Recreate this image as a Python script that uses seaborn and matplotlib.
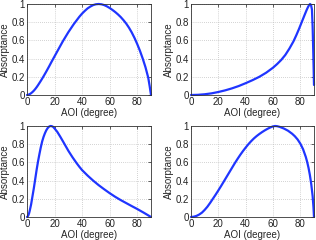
import matplotlib
matplotlib.use("Agg")
import matplotlib.pyplot as plt
import seaborn as sns
import pandas as pd

# Panel 1 (top-left)
aoi_1 = [0, 1, 2, 3, 4, 5, 6, 7, 8, 10, 12, 14, 16, 18, 20, 22, 24, 26, 28, 30, 32, 34, 36, 38, 40, 42, 44, 46, 48, 50, 52, 54, 56, 58,
         60, 62, 64, 66, 68, 70, 72, 74, 76, 78, 80, 82, 84, 86, 88, 89, 90]
abs_1 = [0, 0.003, 0.01, 0.02, 0.033, 0.048, 0.066, 0.086, 0.108, 0.155, 0.205, 0.258, 0.313, 0.37, 0.425, 0.48, 0.535, 0.59, 0.64, 0.69,
         0.735, 0.78, 0.82, 0.86, 0.895, 0.925, 0.952, 0.972, 0.988, 0.997, 1.0, 0.997, 0.988, 0.974,
         0.956, 0.935, 0.912, 0.886, 0.857, 0.823, 0.785, 0.74, 0.688, 0.628, 0.56, 0.485, 0.40, 0.305, 0.19, 0.1, 0]

# Panel 2 (top-right)
aoi_2 = [0, 5, 10, 15, 20, 25, 30, 35, 40, 45, 50, 55, 60, 63, 66, 69, 72, 75, 77, 79, 81, 83, 84.5, 85.5, 86.3, 87.1, 87.8, 88.5, 89, 89.5, 90]
abs_2 = [0, 0.002, 0.008, 0.018, 0.033, 0.051, 0.073, 0.099, 0.13, 0.163, 0.2, 0.245, 0.3, 0.34, 0.385, 0.44, 0.51, 0.59, 0.655, 0.725,
         0.8, 0.875, 0.93, 0.963, 0.985, 1.0, 0.99, 0.94, 0.75, 0.45, 0.11]

# Panel 3 (bottom-left)
aoi_3 = [0, 0.5, 1, 1.5, 2, 3, 4, 5, 6, 7, 8, 9, 10, 11, 12, 13, 14, 15, 16, 17, 18, 19, 20, 22, 24, 26, 28, 30, 33, 36, 38, 40,
         44, 48, 52, 56, 60, 64, 68, 72, 76, 80, 85, 90]
abs_3 = [0, 0.005, 0.02, 0.04, 0.07, 0.14, 0.23, 0.32, 0.42, 0.52, 0.61, 0.69, 0.765, 0.83, 0.88, 0.92, 0.953, 0.977, 0.993, 1.0, 0.998,
         0.99, 0.973, 0.935, 0.886, 0.834, 0.781, 0.728, 0.657, 0.592, 0.552, 0.515,
         0.455, 0.4, 0.35, 0.305, 0.262, 0.222, 0.186, 0.153, 0.12, 0.088, 0.045, 0]

# Panel 4 (bottom-right)
aoi_4 = [0, 2, 4, 6, 8, 10, 12, 14, 16, 18, 20, 22, 24, 26, 28, 30, 32, 34, 36, 38, 40, 42, 44, 46, 48, 50, 52, 54, 56, 58, 60, 61.5,
         63, 65, 68, 71, 74, 76, 78, 80, 82, 84, 85, 86, 87, 88, 89, 89.6, 90]
abs_4 = [0, 0.003, 0.012, 0.027, 0.048, 0.078, 0.113, 0.155, 0.2, 0.245, 0.292, 0.34, 0.39, 0.44, 0.49, 0.54, 0.59, 0.637, 0.682, 0.724,
         0.763, 0.8, 0.833, 0.863, 0.889, 0.912, 0.933, 0.952, 0.969, 0.984, 0.996, 1.0,
         0.998, 0.99, 0.972, 0.948, 0.915, 0.887, 0.852, 0.806, 0.745, 0.66, 0.605, 0.54, 0.46, 0.36, 0.23, 0.11, 0]

x_ticks = [0, 20, 40, 60, 80]
y_ticks = [0, 0.2, 0.4, 0.6, 0.8, 1]
y_tick_labels = ["0", "0.2", "0.4", "0.6", "0.8", "1"]

sns.set_style("white")
plt.rcParams['font.family'] = ['Liberation Sans', 'DejaVu Sans']

fig = plt.figure(figsize=(3.16, 2.4), dpi=100)
rects = [
    [27/316, (240-95)/240, 124/316, 91/240],
    [191/316, (240-95)/240, 123/316, 91/240],
    [27/316, (240-217)/240, 124/316, 91/240],
    [191/316, (240-217)/240, 123/316, 91/240],
]
data = [(aoi_1, abs_1), (aoi_2, abs_2), (aoi_3, abs_3), (aoi_4, abs_4)]

for rect, (xs, ys) in zip(rects, data):
    ax = fig.add_axes(rect)
    df = pd.DataFrame({"x": xs, "y": ys})
    sns.lineplot(data=df, x="x", y="y", ax=ax, color="#1f35ff", linewidth=1.6, sort=False, clip_on=False)
    ax.set_xlim(0, 90)
    ax.set_ylim(0, 1)
    ax.set_xticks(x_ticks)
    ax.set_yticks(y_ticks)
    ax.set_yticklabels(y_tick_labels)
    ax.grid(True, linestyle=(0, (1, 2)), color="#aaaaaa", linewidth=0.5)
    ax.tick_params(direction="in", length=2, width=0.5, labelsize=7, pad=1.5,
                   top=True, right=True, colors="#222222")
    for s in ax.spines.values():
        s.set_linewidth(0.6)
        s.set_color("#333333")
    ax.set_xlabel("AOI (degree)", fontsize=7, labelpad=0.5)
    ax.set_ylabel("Absorptance", fontsize=7, labelpad=1)

fig.savefig("out.png", dpi=100)
